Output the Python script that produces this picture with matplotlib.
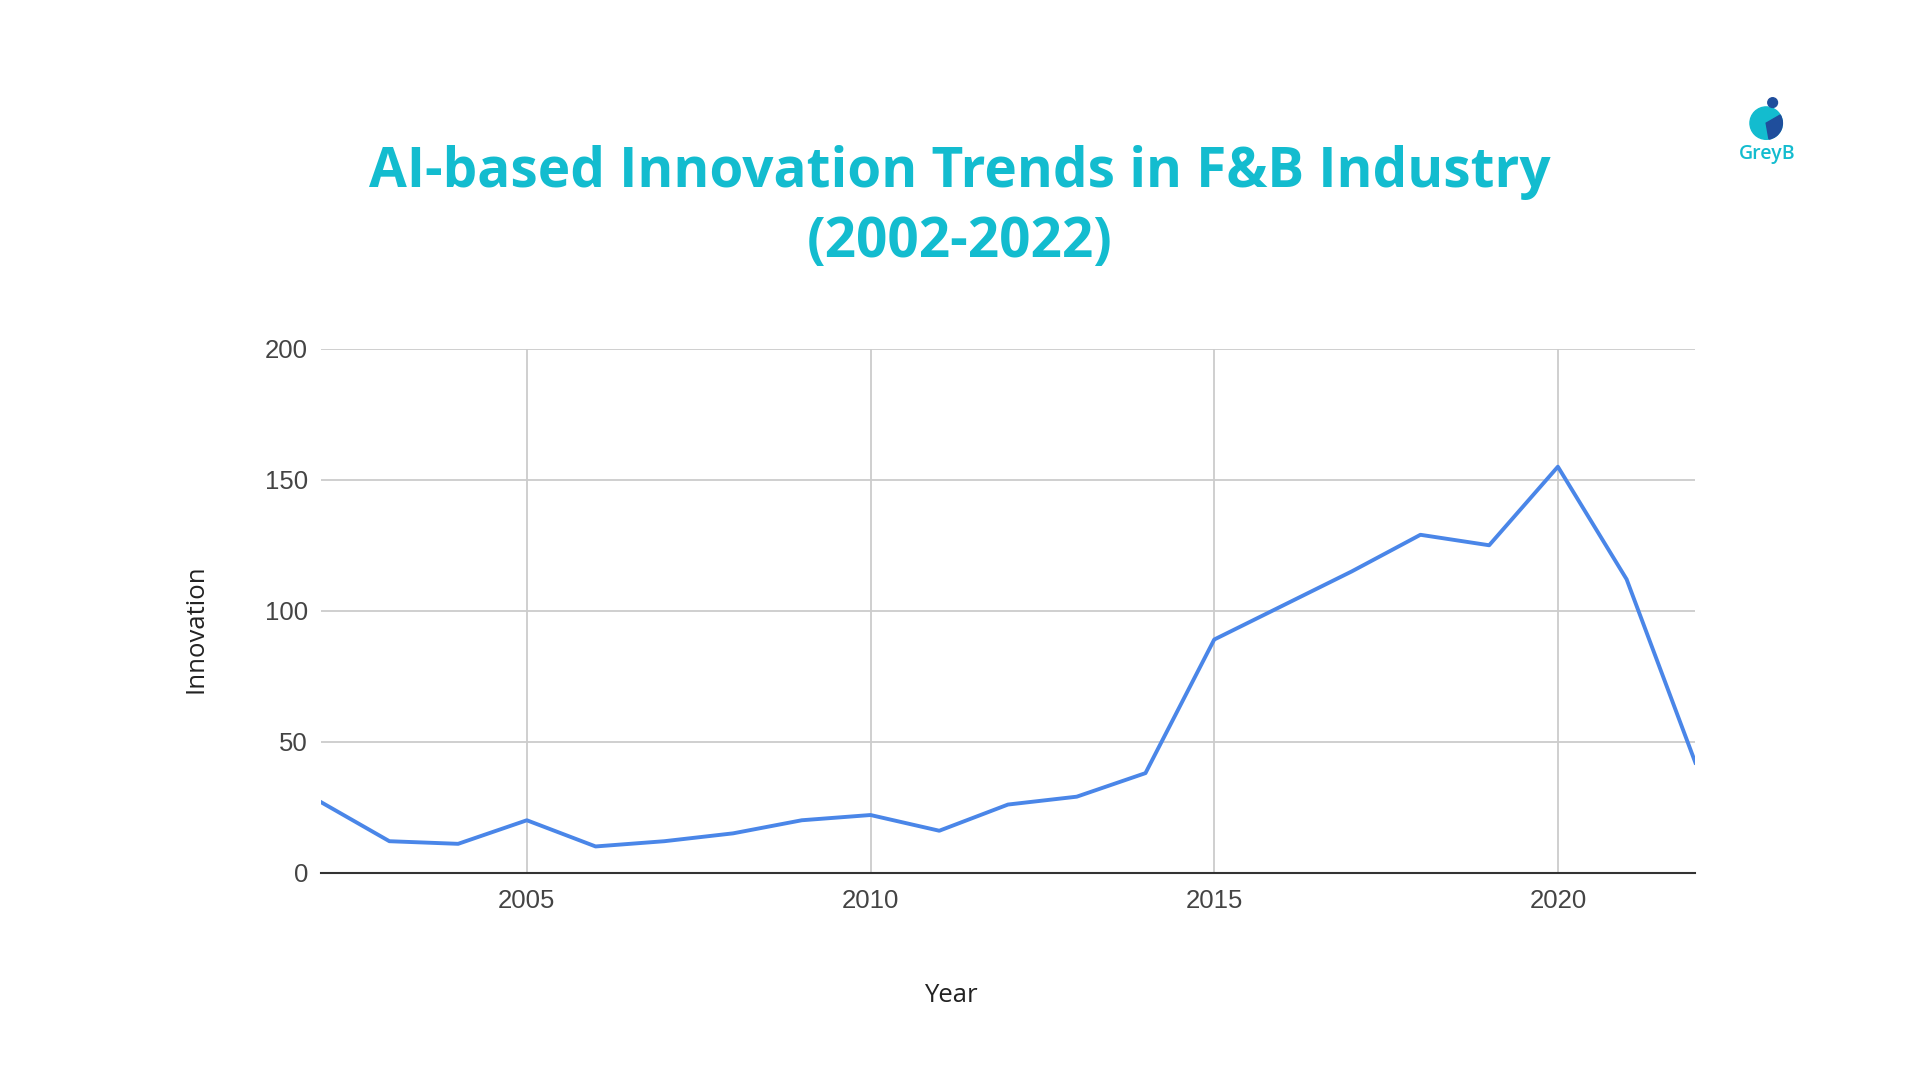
import matplotlib.pyplot as plt
from matplotlib.patches import Circle, Wedge

years = list(range(2002, 2023))
innovation = [27, 12, 11, 20, 10, 12, 15, 20, 22, 16, 26, 29, 38, 89, 102, 115, 129, 125, 155, 112, 42]
xticks = [2005, 2010, 2015, 2020]
yticks = [0, 50, 100, 150, 200]

teal = '#13BCCF'

fig = plt.figure(figsize=(19.2, 10.8), dpi=100)
ax = fig.add_axes([0.167, 0.192, 0.716, 0.485])

ax.plot(years, innovation, color='#4A86E8', linewidth=2.8, zorder=3)
ax.set_xlim(2002, 2022)
ax.set_ylim(0, 200)
ax.set_xticks(xticks)
ax.set_yticks(yticks)
ax.grid(True, color='#cccccc', linewidth=1.3)
for s in ['top', 'right', 'left']:
    ax.spines[s].set_visible(False)
ax.spines['bottom'].set_color('#333333')
ax.spines['bottom'].set_linewidth(1.5)
ax.tick_params(length=0, labelsize=18.5, labelcolor='#444444')
ax.tick_params(axis='x', pad=12)
ax.tick_params(axis='y', pad=9)
for lab in ax.get_xticklabels() + ax.get_yticklabels():
    lab.set_family('Liberation Sans')

fig.text(0.495, 0.078, 'Year', ha='center', va='center', fontsize=18.5,
         family='Open Sans', color='#222222')
fig.text(0.102, 0.418, 'Innovation', ha='center', va='center', rotation=90,
         fontsize=18.5, family='Open Sans', color='#222222')

fig.text(0.5, 0.84, 'AI-based Innovation Trends in F&B Industry', ha='center', va='center',
         fontsize=39.5, fontweight='bold', family='Open Sans', color=teal)
fig.text(0.5, 0.775, '(2002-2022)', ha='center', va='center',
         fontsize=39.5, fontweight='bold', family='Open Sans', color=teal)

# logo
lax = fig.add_axes([0.896, 0.83, 0.05, 0.089])
lax.set_xlim(0, 1)
lax.set_ylim(0, 1.78)
lax.set_aspect('equal')
lax.axis('off')
lax.add_patch(Circle((0.46, 1.12), 0.3, color=teal))
lax.add_patch(Wedge((0.46, 1.12), 0.3, -80, 30, color='#1F4E9C'))
lax.add_patch(Circle((0.58, 1.5), 0.09, color='#1F4E9C'))
lax.text(0.48, 0.55, 'GreyB', ha='center', va='center', fontsize=14,
         fontweight='semibold', family='Open Sans', color=teal)

plt.savefig('out.png')
